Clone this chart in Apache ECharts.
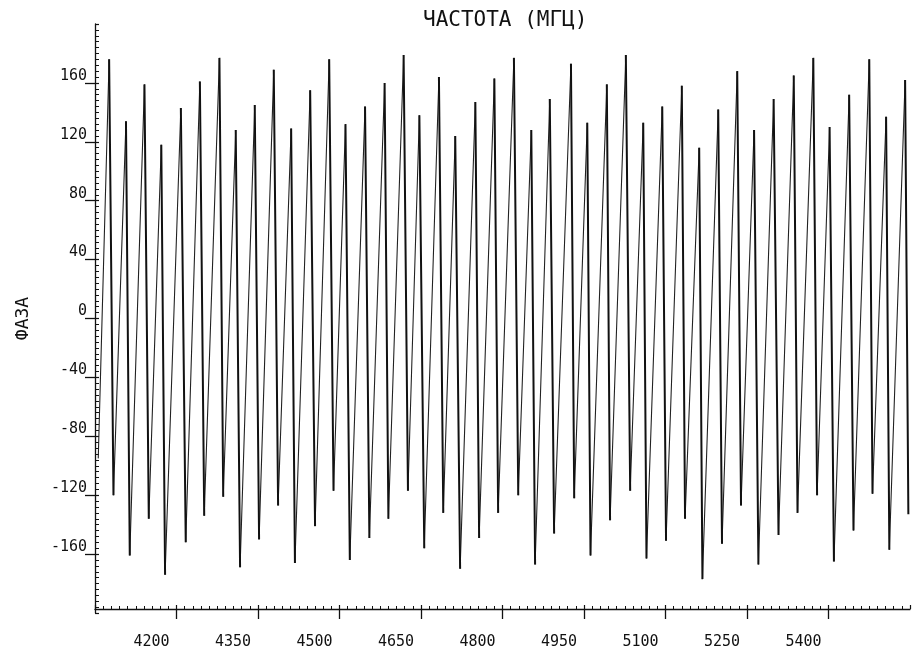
<!DOCTYPE html>
<html>
<head>
<meta charset="utf-8">
<script src="https://cdn.jsdelivr.net/npm/echarts@6/dist/echarts.min.js"></script>
<style>
  html, body { margin: 0; padding: 0; background: #fff; }
  #chart { width: 914px; height: 651px; }
</style>
</head>
<body>
<div id="chart"></div>
<script>
// Phase response versus frequency: each cycle rises to a peak, then drops to a trough.
const startFreq = 4056;
const startPhase = -95;

const peakFreq = [4076, 4107, 4141, 4172, 4208, 4243, 4279, 4309, 4344, 4379,
  4411, 4446, 4481, 4511, 4547, 4583, 4618, 4647, 4683, 4713,
  4750, 4785, 4821, 4853, 4887, 4926, 4956, 4992, 5027, 5059,
  5094, 5130, 5162, 5197, 5232, 5263, 5299, 5336, 5372, 5402,
  5438, 5475, 5506, 5541];
const peakPhase = [176, 134, 159, 118, 143, 161, 177, 128, 145, 169,
  129, 155, 176, 132, 144, 160, 179, 138, 164, 124,
  147, 163, 177, 128, 149, 173, 133, 159, 179, 133,
  144, 158, 116, 142, 168, 128, 149, 165, 177, 130,
  152, 176, 137, 162];
const troughFreq = [4084, 4114, 4149, 4179, 4217, 4251, 4286, 4317, 4352, 4387,
  4418, 4455, 4489, 4519, 4555, 4590, 4626, 4656, 4691, 4722,
  4757, 4792, 4829, 4860, 4895, 4932, 4962, 4998, 5035, 5065,
  5101, 5136, 5168, 5204, 5239, 5271, 5308, 5343, 5379, 5410,
  5446, 5481, 5512, 5547];
const troughPhase = [-120, -161, -136, -174, -152, -134, -121, -169, -150, -127,
  -166, -141, -117, -164, -149, -136, -117, -156, -132, -170,
  -149, -132, -120, -167, -146, -122, -161, -137, -117, -163,
  -151, -136, -177, -153, -127, -167, -147, -132, -120, -165,
  -144, -119, -157, -133];

const xTicks = [4200, 4350, 4500, 4650, 4800, 4950, 5100, 5250, 5400];
const yTicks = [160, 120, 80, 40, 0, -40, -80, -120, -160];

const titleText = 'ЧАСТОТА (МГЦ)';
const yName = 'ФАЗА';

// Rising strokes (trough -> next peak) and falling strokes (peak -> trough),
// split with gaps so the pen weights can differ
const GAP = ['-', '-'];
const rising = [];
const falling = [];
let prev = [startFreq, startPhase];
for (let i = 0; i < peakFreq.length; i++) {
  const p = [peakFreq[i], peakPhase[i]];
  const t = [troughFreq[i], troughPhase[i]];
  rising.push(prev, p, GAP);
  falling.push(p, t, GAP);
  prev = t;
}

const ink = '#111';
const mono = '"DejaVu Sans Mono", "Liberation Mono", monospace';

const X_MIN = 4050, X_MAX = 5550, X_STEP = 150;
const Y_MIN = -200, Y_MAX = 200, Y_STEP = 40;

const chart = echarts.init(document.getElementById('chart'), null, { renderer: 'canvas' });

chart.setOption({
  animation: false,
  backgroundColor: '#fff',
  title: {
    text: titleText,
    left: 418,
    top: 5,
    textStyle: { fontFamily: mono, fontSize: 21, fontWeight: 'normal', color: ink }
  },
  grid: { left: 95, right: 4, top: 24, bottom: 38, containLabel: false, outerBoundsMode: 'none' },
  xAxis: [
    {
      type: 'value', min: X_MIN, max: X_MAX, interval: X_STEP,
      offset: -4,
      axisLine: { show: true, onZero: false, lineStyle: { color: ink, width: 1.3 } },
      axisTick: { show: true, length: 10, lineStyle: { color: ink, width: 1.3 } },
      minorTick: { show: false },
      splitLine: { show: false },
      axisLabel: {
        show: true, margin: 26, padding: [0, 50, 0, 0],
        fontFamily: mono, fontSize: 15, color: ink,
        showMinLabel: false, showMaxLabel: false,
        formatter: v => (xTicks.indexOf(v) >= 0 ? String(v) : '')
      }
    },
    {
      type: 'value', min: X_MIN, max: X_MAX, interval: X_STEP,
      position: 'bottom', offset: -4,
      axisLine: { show: false, onZero: false },
      axisTick: { show: true, inside: true, length: 4, lineStyle: { color: ink, width: 1.2 } },
      minorTick: { show: true, splitNumber: 10, length: 3, lineStyle: { color: ink, width: 1 } },
      splitLine: { show: false },
      axisLabel: { show: false }
    }
  ],
  yAxis: [
    {
      type: 'value', min: Y_MIN, max: Y_MAX, interval: Y_STEP,
      name: yName, nameLocation: 'middle', nameRotate: 90, nameGap: 63,
      nameTextStyle: { fontFamily: mono, fontSize: 18, color: ink },
      axisLine: { show: true, onZero: false, lineStyle: { color: ink, width: 1.3 } },
      axisTick: { show: true, length: 10, lineStyle: { color: ink, width: 1.3 } },
      minorTick: { show: false },
      splitLine: { show: false },
      axisLabel: {
        show: true, margin: 8, verticalAlign: 'bottom', lineHeight: 14,
        fontFamily: mono, fontSize: 15, color: ink,
        showMinLabel: false, showMaxLabel: false,
        formatter: v => (yTicks.indexOf(v) >= 0 ? String(v) : '')
      }
    },
    {
      type: 'value', min: Y_MIN, max: Y_MAX, interval: Y_STEP,
      position: 'left', offset: 0,
      axisLine: { show: false, onZero: false },
      axisTick: { show: true, inside: true, length: 4, lineStyle: { color: ink, width: 1.2 } },
      minorTick: { show: true, splitNumber: 10, length: 4, lineStyle: { color: ink, width: 1 } },
      splitLine: { show: false },
      axisLabel: { show: false }
    }
  ],
  series: [
    {
      type: 'line',
      data: rising,
      showSymbol: false,
      symbol: 'none',
      connectNulls: false,
      clip: true,
      lineStyle: { color: '#222', width: 1.1 }
    },
    {
      type: 'line',
      data: falling,
      showSymbol: false,
      symbol: 'none',
      connectNulls: false,
      clip: true,
      lineStyle: { color: ink, width: 2 }
    }
  ]
});
</script>
</body>
</html>
